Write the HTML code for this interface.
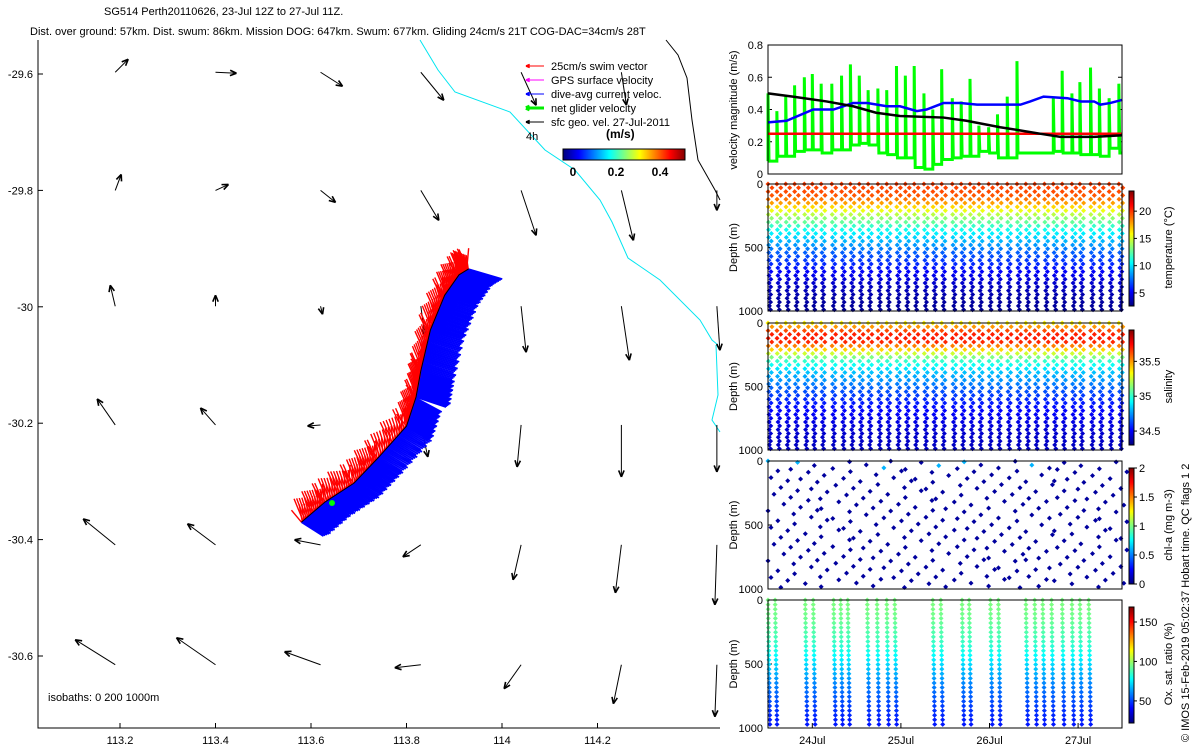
<!DOCTYPE html>
<html><head><meta charset="utf-8"><style>
body{margin:0;background:#fff;}
svg{display:block;font-family:"Liberation Sans",sans-serif;}
text{font-size:11px;fill:#000;}
</style></head><body>
<svg id="s" width="1200" height="750" viewBox="0 0 1200 750">
<g id="map"></g>
<g id="right"></g>
<text x="104" y="15">SG514 Perth20110626, 23-Jul 12Z to 27-Jul 11Z.</text>
<text x="30" y="35">Dist. over ground: 57km. Dist. swum: 86km. Mission DOG: 647km. Swum: 677km. Gliding 24cm/s 21T COG-DAC=34cm/s 28T</text>
<text transform="translate(1189,742) rotate(-90)">© IMOS 15-Feb-2019 05:02:37 Hobart time. QC flags 1 2</text>
</svg>
<script>
// ---------- map data ----------
const lonTicks=[113.2,113.4,113.6,113.8,114,114.2];
const latTicks=[-29.6,-29.8,-30,-30.2,-30.4,-30.6];
const gridLon=[113.19,113.40,113.62,113.83,114.04,114.25,114.45];
const gridLat=[-29.597,-29.8,-29.999,-30.203,-30.409,-30.615];
const arrU=[[0.13,0.21,0.22,0.23,0.15,0.05,0.0],[0.06,0.13,0.15,0.18,0.15,0.12,0.0],[-0.05,0.0,0.02,0.04,0.05,0.08,0.03],[-0.18,-0.15,-0.13,0.07,-0.04,0.0,0.0],[-0.32,-0.28,-0.26,-0.18,-0.08,-0.06,-0.02],[-0.40,-0.39,-0.36,-0.26,-0.17,-0.08,-0.02]];
const arrV=[[0.13,-0.01,-0.14,-0.28,-0.33,-0.33,0.0],[0.16,0.06,-0.12,-0.30,-0.45,-0.50,-0.2],[0.21,0.11,-0.08,-0.29,-0.46,-0.54,-0.44],[0.26,0.17,-0.01,-0.32,-0.42,-0.52,-0.47],[0.26,0.21,0.05,-0.12,-0.35,-0.48,-0.60],[0.25,0.27,0.13,-0.03,-0.24,-0.39,-0.52]];
const trackLon=[113.58,113.63,113.69,113.74,113.80,113.82,113.83,113.85,113.88,113.91,113.93];
const trackLat=[-30.37,-30.335,-30.303,-30.26,-30.205,-30.155,-30.11,-30.04,-29.98,-29.945,-29.935];
const NS="http://www.w3.org/2000/svg";
function mk(p,t,a){const e=document.createElementNS(NS,t);for(const k in a)e.setAttribute(k,a[k]);p.appendChild(e);return e;}
const X=lon=>120+(lon-113.2)*477.5, Y=lat=>74+(-29.6-lat)*582;
const map=document.getElementById('map');
let ax=mk(map,'path',{d:'M38,40 L38,728 L720,728',fill:'none',stroke:'#000','stroke-width':1});

lonTicks.forEach(v=>{const x=X(v);mk(map,'line',{x1:x,x2:x,y1:728,y2:723,stroke:'#000'});
 const t=mk(map,'text',{x:x,y:744,'text-anchor':'middle'});t.textContent=String(v);
 });
latTicks.forEach(v=>{const y=Y(v);mk(map,'line',{x1:38,x2:43,y1:y,y2:y,stroke:'#000'});
 const t=mk(map,'text',{x:33,y:y+4,'text-anchor':'end'});t.textContent=String(v);
 });
let iso=mk(map,'polyline',{points:'420,40 438,70 455,92 510,112 545,150 575,170 600,200 612,222 628,258 660,280 700,320 712,340 718,345',fill:'none',stroke:'#00e5f0','stroke-width':1});

let iso2=mk(map,'polyline',{points:'716,345 718,395 712,420 720,432',fill:'none',stroke:'#00e5f0','stroke-width':1});

let iso3=mk(map,'polyline',{points:'666,40 678,55 687,78 692,120 698,160 715,190 720,200',fill:'none',stroke:'#000','stroke-width':1});

function arrow(g,x1,y1,x2,y2,col,w,hs){mk(g,'line',{x1,y1,x2,y2,stroke:col,'stroke-width':w});
 const a=Math.atan2(y2-y1,x2-x1);[0.4,-0.4].forEach(d=>mk(g,'line',{x1:x2,y1:y2,x2:x2-hs*Math.cos(a+d),y2:y2-hs*Math.sin(a+d),stroke:col,'stroke-width':w+0.6}));}
for(let r=0;r<gridLat.length;r++)for(let c=0;c<gridLon.length;c++){
 const u=arrU[r][c],v=arrV[r][c];if(Math.abs(u)+Math.abs(v)<0.01)continue;
 const g=mk(map,'g',{});
 const x0=X(gridLon[c]),y0=Y(gridLat[r]);arrow(g,x0,y0,x0+u*100,y0-v*100,'#000',1,7);}
const tg=mk(map,'g',{});
const tp=trackLon.map((l,i)=>[X(l),Y(trackLat[i])]);
for(let i=0;i<tp.length-1;i++){const[a,b]=tp[i],[c2,d]=tp[i+1];
 for(let k=0;k<30;k++){const f=k/30,x=a+(c2-a)*f,y=b+(d-b)*f;
  mk(tg,'line',{x1:x,y1:y,x2:x+22+(i>4?8:0)+(k%5),y2:y+14-(i>4?4:0),stroke:'#0000ff','stroke-width':1.8});}}
for(let i=0;i<tp.length-1;i++){const[a,b]=tp[i],[c2,d]=tp[i+1];
 for(let k=0;k<30;k++){const f=k/30,x=a+(c2-a)*f,y=b+(d-b)*f;
  mk(tg,'line',{x1:x,y1:y,x2:x-10+(k*7%13),y2:y-12-(k*5%11),stroke:'#ff0000','stroke-width':1.4});}}
mk(tg,'polyline',{points:tp.map(p=>p.join(',')).join(' '),fill:'none',stroke:'#000','stroke-width':1});
mk(tg,'circle',{cx:332,cy:503,r:3,fill:'#00ff00'});
const lg=mk(map,'g',{});
const legItems=[['25cm/s swim vector','#ff0000',1],['GPS surface velocity','#ff00ff',1],['dive-avg current veloc.','#0000ff',1],['net glider velocity','#00ee00',3],['sfc geo. vel. 27-Jul-2011','#000',1]];
legItems.forEach((it,i)=>{const y=66+i*14;arrow(lg,544,y,526,y,it[1],it[2],4);
 const t=mk(lg,'text',{x:551,y:y+4});t.textContent=it[0];
 });
let t4=mk(map,'text',{x:526,y:140});t4.textContent='4h';
let tms=mk(map,'text',{x:606,y:138,'font-weight':'bold','style':'font-size:12px'});tms.textContent='(m/s)';

let ib=mk(map,'text',{x:48,y:701});ib.textContent='isobaths: 0   200   1000m';

function jet(f){f=Math.max(0,Math.min(1,f));const cl=v=>Math.round(255*Math.max(0,Math.min(1,v)));
 return `rgb(${cl(1.5-Math.abs(4*f-3))},${cl(1.5-Math.abs(4*f-2))},${cl(1.5-Math.abs(4*f-1))})`;}
function cbarH(g,x,y,w,h){for(let i=0;i<w;i++)mk(g,'rect',{x:x+i,y,width:1.2,height:h,fill:jet(i/w)});mk(g,'rect',{x,y,width:w,height:h,fill:'none',stroke:'#000'});}
const cbm=mk(map,'g',{});
cbarH(cbm,563,149,122,11);
[['0',573],['0.2',616],['0.4',660]].forEach(a=>{const t=mk(cbm,'text',{x:a[1],y:176,'text-anchor':'middle','font-weight':'bold','style':'font-size:12px'});t.textContent=a[0];});

// ---------- right panels data ----------
const diveT=[23.50,23.60,23.70,23.80,23.91,24.00,24.10,24.22,24.33,24.43,24.53,24.63,24.74,24.84,24.95,25.05,25.15,25.26,25.36,25.46,25.58,25.68,25.78,25.88,25.99,26.09,26.20,26.31,26.72,26.82,26.93,27.02,27.14,27.24,27.35,27.46];
const extraDiveT=[26.41,26.51,26.62];
const spikeHi=[0.5,0.39,0.48,0.55,0.6,0.62,0.56,0.56,0.61,0.68,0.61,0.52,0.53,0.52,0.67,0.61,0.67,0.5,0.4,0.65,0.47,0.45,0.59,0.3,0.29,0.37,0.48,0.7,0.47,0.64,0.5,0.57,0.66,0.53,0.47,0.56];
const spikeLo=[0.08,0.11,0.11,0.14,0.15,0.15,0.13,0.15,0.15,0.18,0.19,0.18,0.13,0.12,0.10,0.10,0.04,0.03,0.06,0.09,0.10,0.11,0.11,0.14,0.13,0.10,0.10,0.13,0.14,0.13,0.13,0.12,0.12,0.11,0.16,0.13];
const dacT=[23.50,23.71,24.01,24.24,24.46,24.62,24.84,24.99,25.18,25.29,25.48,25.67,25.86,26.35,26.46,26.61,26.88,27.03,27.18,27.25,27.36,27.50];
const dacV=[0.32,0.33,0.40,0.40,0.44,0.44,0.42,0.42,0.39,0.40,0.44,0.44,0.43,0.43,0.45,0.48,0.47,0.45,0.45,0.43,0.44,0.46];
const geoT=[23.50,23.78,24.16,24.46,24.72,24.99,25.48,25.74,26.12,26.35,26.57,26.80,27.18,27.50];
const geoV=[0.50,0.48,0.45,0.42,0.38,0.36,0.35,0.33,0.29,0.27,0.25,0.23,0.23,0.24];
const swimV=0.25;
const tempProf=[19.8,19.6,19.2,17.8,15.8,14,12.6,11,10,9,8,7,6.4,5.8,5,4.5,4,3.7,3.4,3.2,3];
const salProf=[35.35,35.6,35.72,35.68,35.45,35.2,35.0,34.9,34.8,34.75,34.68,34.62,34.57,34.53,34.5,34.48,34.45,34.43,34.42,34.41,34.4];
const oxyT=[23.50,23.58,23.92,24.01,24.24,24.32,24.40,24.62,24.73,24.84,24.93,25.36,25.45,25.69,25.77,26.01,26.10,26.41,26.51,26.60,26.70,26.82,26.93,27.02,27.12];
const oxyProf=[95,95,94,93,91,89,87,84,80,76,72,68,64,60,57,54,51,48,46,44,43];
const dayTicks=[24,25,26,27];
const dayLabels=['24Jul','25Jul','26Jul','27Jul'];

const R=document.getElementById('right');
const T=t=>768+(t-23.5)*88.6;
const L=768,Rx=1122;
function panel(name,top,bot){const g=mk(R,'g',{});
 g.box=()=>mk(g,'rect',{x:L,y:top,width:Rx-L,height:bot-top,fill:'none',stroke:'#000'});return g;}
function ylab(g,txt,yc){const t=mk(g,'text',{transform:`translate(737,${yc}) rotate(-90)`,'text-anchor':'middle'});t.textContent=txt;}
const p1=panel('velocity-panel',45,174);const V=v=>174-v*161.25;
[0,0.2,0.4,0.6,0.8].forEach(v=>{const t=mk(p1,'text',{x:763,y:V(v)+4,'text-anchor':'end'});t.textContent=String(v);
 mk(p1,'line',{x1:L,x2:L+4,y1:V(v),y2:V(v),stroke:'#000'});mk(p1,'line',{x1:Rx-4,x2:Rx,y1:V(v),y2:V(v),stroke:'#000'});});
ylab(p1,'velocity magnitude (m/s)',110);
let gd='M'+T(diveT[0])+','+V(spikeLo[0]);
diveT.forEach((t,i)=>{const x=T(t);if(i>0)gd+=' L'+x+','+V(spikeLo[i-1]);gd+=' L'+x+','+V(spikeHi[i])+' L'+(x+1)+','+V(spikeLo[i]);});
gd+=' L'+Rx+','+V(spikeLo[spikeLo.length-1]);
let gp=mk(p1,'path',{d:gd,fill:'none',stroke:'#00ff00','stroke-width':3});
let rl=mk(p1,'line',{x1:L,x2:Rx,y1:V(swimV),y2:V(swimV),stroke:'#ff0000','stroke-width':2.5});
let bl=mk(p1,'polyline',{points:dacT.map((t,i)=>T(t)+','+V(dacV[i])).join(' '),fill:'none',stroke:'#0000ff','stroke-width':2.5});
let kl=mk(p1,'polyline',{points:geoT.map((t,i)=>T(t)+','+V(geoV[i])).join(' '),fill:'none',stroke:'#000','stroke-width':2.5});
p1.box();
function dpanel(name,top,bot,label,cbLab,cbMin,cbMax,cbTicks){
 const g=panel(name,top,bot);const D=d=>top+d*(bot-top)/1000;
 [[0,'0'],[500,'500'],[1000,'1000']].forEach(a=>{const t=mk(g,'text',{x:763,y:D(a[0])+4,'text-anchor':'end'});t.textContent=a[1];
  mk(g,'line',{x1:L,x2:L+4,y1:D(a[0]),y2:D(a[0]),stroke:'#000'});});
 ylab(g,label,(top+bot)/2);
 const cb=mk(g,'g',{});
 const ct=top+7,cbh=bot-top-12;
 for(let i=0;i<cbh;i++)mk(cb,'rect',{x:1129,y:ct+cbh-i-1,width:5,height:1.3,fill:jet(i/cbh)});
 mk(cb,'rect',{x:1129,y:ct,width:5,height:cbh,fill:'none',stroke:'#000'});
 cbTicks.forEach(v=>{const y=ct+cbh-(v-cbMin)/(cbMax-cbMin)*cbh;mk(cb,'line',{x1:1134,x2:1137,y1:y,y2:y,stroke:'#000'});
  const t=mk(cb,'text',{x:1139,y:y+4});t.textContent=String(v);});
 const t=mk(g,'text',{transform:`translate(1172,${(top+bot)/2}) rotate(-90)`,'text-anchor':'middle'});t.textContent=cbLab;
 g.D=D;g.col=v=>jet((v-cbMin)/(cbMax-cbMin));return g;}
function interp(arr,d){const i=Math.min(19,Math.floor(d/50)),f=(d-i*50)/50;return arr[i]+(arr[i+1]-arr[i])*f;}
function dot(g,x,y,c){mk(g,'path',{d:`M${x-2.5},${y}L${x},${y-2.5}L${x+2.5},${y}L${x},${y+2.5}Z`,fill:c});}
function profiles(g,times,prof,step){const gg=mk(g,'g',{});
 times.forEach(t=>{[0,4].forEach(off=>{for(let d=off?30:0;d<=1000;d+=step){dot(gg,T(t)+off+(d/1000)*1.5*(off?-1:1),g.D(d),g.col(interp(prof,d)));}});});}
const allT=diveT.concat(extraDiveT);
const p2=dpanel('temperature-panel',184,311,'Depth (m)','temperature (°C)',2.6,23.7,[5,10,15,20]);
profiles(p2,allT,tempProf,60);p2.box();
const p3=dpanel('salinity-panel',323,450,'Depth (m)','salinity',34.3,35.95,[34.5,35,35.5]);
profiles(p3,allT,salProf,60);p3.box();
const p4=dpanel('chlorophyll-panel',461,589,'Depth (m)','chl-a (mg m-3)',0,2,[0,0.5,1,1.5,2]);
const cg=mk(p4,'g',{});
allT.forEach((t,i)=>{for(let k=0;k<8;k++){const d=((k*130+i*77)%1000);const x=T(t)+((k*3+i)%9);
 dot(cg,x,p4.D(d),d<60&&i%3==0?jet(0.3):jet(0.03));}});
p4.box();
const p5=dpanel('oxygen-panel',600,728,'Depth (m)','Ox. sat. ratio (%)',22,169,[50,100,150]);
const og=mk(p5,'g',{});
oxyT.forEach(t=>{for(let d=0;d<=1000;d+=36){dot(og,T(t)+(d/1000)*2,p5.D(d),p5.col(interp(oxyProf,d)));}});
p5.box();
dayTicks.forEach((d,i)=>{const x=T(d);mk(R,'line',{x1:x,x2:x,y1:728,y2:723,stroke:'#000'});
 const t=mk(R,'text',{x:x,y:744,'text-anchor':'middle'});t.textContent=dayLabels[i];
 });
</script>
</body></html>
